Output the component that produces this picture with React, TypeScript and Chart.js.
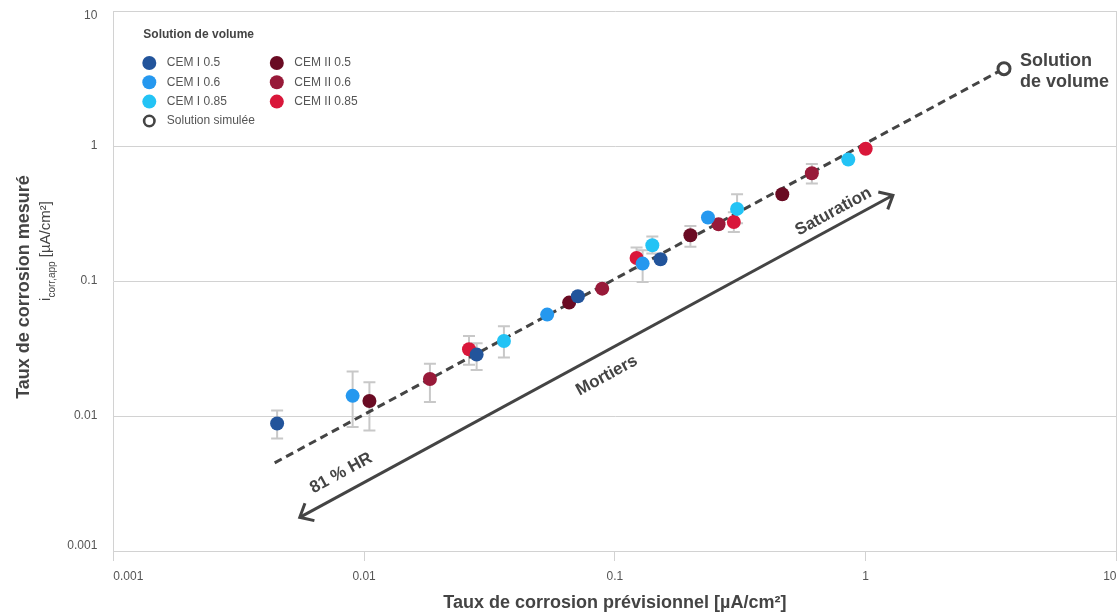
import React, { useEffect, useRef } from 'react';
import { Chart, registerables } from 'chart.js';

Chart.register(...registerables);

const FONT = "'Liberation Sans', Arial, Helvetica, sans-serif";

// ---- Axis ticks ----
const xTickValues = [0.001, 0.01, 0.1, 1, 10];
const xTickLabels = ['0.001', '0.01', '0.1', '1', '10'];
const yTickValues = [0.001, 0.01, 0.1, 1, 10];
const yTickLabels = ['0.001', '0.01', '0.1', '1', '10'];

// ---- Series ----
const seriesNames = ['CEM I 0.5', 'CEM I 0.6', 'CEM I 0.85', 'CEM II 0.5', 'CEM II 0.6', 'CEM II 0.85'];
const seriesColors = ['#22549b', '#2598ef', '#23c3f5', '#6a0b23', '#981a39', '#d9173a'];

const cemI05X = [0.0045, 0.0281, 0.0712, 0.152];
const cemI05Y = [0.0088, 0.0285, 0.077, 0.145];
const cemI05Lo = [0.0068, 0.0219, null, null];
const cemI05Hi = [0.011, 0.0346, null, null];

const cemI06X = [0.009, 0.0537, 0.129, 0.235];
const cemI06Y = [0.0141, 0.0564, 0.1345, 0.295];
const cemI06Lo = [0.0083, null, 0.0983, null];
const cemI06Hi = [0.0214, null, 0.1688, null];

const cemI085X = [0.0361, 0.141, 0.307, 0.852];
const cemI085Y = [0.0359, 0.184, 0.342, 0.794];
const cemI085Lo = [0.0271, 0.16, 0.268, null];
const cemI085Hi = [0.0462, 0.214, 0.439, null];

const cemII05X = [0.0105, 0.0657, 0.2, 0.465];
const cemII05Y = [0.0129, 0.0692, 0.218, 0.439];
const cemII05Lo = [0.0078, null, 0.179, null];
const cemII05Hi = [0.0178, null, 0.256, null];

const cemII06X = [0.0183, 0.089, 0.259, 0.61];
const cemII06Y = [0.0188, 0.0878, 0.263, 0.628];
const cemII06Lo = [0.0127, null, null, 0.527];
const cemII06Hi = [0.0244, null, null, 0.736];

const cemII085X = [0.0262, 0.122, 0.298, 1.0];
const cemII085Y = [0.0312, 0.148, 0.2735, 0.953];
const cemII085Lo = [0.024, 0.124, 0.231, null];
const cemII085Hi = [0.0391, 0.177, 0.323, null];

// Simulated bulk solution line
const simName = 'Solution simulée';
const simX = [0.0044, 3.56];
const simY = [0.0045, 3.74];

// Annotation arrow (data coordinates)
const arrowX = [0.00554, 1.284];
const arrowY = [0.001776, 0.4313];

const seriesX = [cemI05X, cemI06X, cemI085X, cemII05X, cemII06X, cemII085X];
const seriesY = [cemI05Y, cemI06Y, cemI085Y, cemII05Y, cemII06Y, cemII085Y];
const seriesLo = [cemI05Lo, cemI06Lo, cemI085Lo, cemII05Lo, cemII06Lo, cemII085Lo];
const seriesHi = [cemI05Hi, cemI06Hi, cemI085Hi, cemII05Hi, cemII06Hi, cemII085Hi];

const GRID = '#d2d2d2';
const DARK = '#444444';
const TEXT = '#555555';

const errorBarPlugin = {
  id: 'errorBars',
  beforeDatasetsDraw(chart: any) {
    const { ctx } = chart;
    const xs = chart.scales.x;
    const ys = chart.scales.y;
    ctx.save();
    ctx.strokeStyle = '#c8c8c8';
    ctx.lineWidth = 2;
    chart.data.datasets.forEach((ds: any) => {
      if (!ds.errLo) return;
      ds.data.forEach((p: any, i: number) => {
        const lo = ds.errLo[i];
        const hi = ds.errHi[i];
        if (lo == null || hi == null) return;
        const px = xs.getPixelForValue(p.x);
        const yl = ys.getPixelForValue(lo);
        const yh = ys.getPixelForValue(hi);
        ctx.beginPath();
        ctx.moveTo(px, yl);
        ctx.lineTo(px, yh);
        ctx.moveTo(px - 6, yl);
        ctx.lineTo(px + 6, yl);
        ctx.moveTo(px - 6, yh);
        ctx.lineTo(px + 6, yh);
        ctx.stroke();
      });
    });
    ctx.restore();
  },
};

function chevron(ctx: CanvasRenderingContext2D, tx: number, ty: number, ang: number, len: number) {
  const a1 = ang + 0.72;
  const a2 = ang - 0.72;
  ctx.beginPath();
  ctx.moveTo(tx + len * Math.cos(a1), ty + len * Math.sin(a1));
  ctx.lineTo(tx, ty);
  ctx.lineTo(tx + len * Math.cos(a2), ty + len * Math.sin(a2));
  ctx.stroke();
}

const annotationPlugin = {
  id: 'annotations',
  afterDatasetsDraw(chart: any) {
    const { ctx } = chart;
    const xs = chart.scales.x;
    const ys = chart.scales.y;
    const x1 = xs.getPixelForValue(arrowX[0]);
    const y1 = ys.getPixelForValue(arrowY[0]);
    const x2 = xs.getPixelForValue(arrowX[1]);
    const y2 = ys.getPixelForValue(arrowY[1]);
    const L = Math.hypot(x2 - x1, y2 - y1);
    const dx = (x2 - x1) / L;
    const dy = (y2 - y1) / L;
    const nx = dy;
    const ny = -dx;
    const ang = Math.atan2(y2 - y1, x2 - x1);
    ctx.save();
    ctx.strokeStyle = DARK;
    ctx.lineWidth = 3;
    ctx.lineCap = 'butt';
    ctx.lineJoin = 'miter';
    ctx.beginPath();
    ctx.moveTo(x1, y1);
    ctx.lineTo(x2, y2);
    ctx.stroke();
    chevron(ctx, x1, y1, ang, 15);
    chevron(ctx, x2, y2, ang + Math.PI, 15);

    const labels: [string, number, number][] = [
      ['81 % HR', 0.085, 19],
      ['Mortiers', 0.5, -22],
      ['Saturation', 0.911, 14],
    ];
    ctx.fillStyle = DARK;
    ctx.font = `bold 17px ${FONT}`;
    ctx.textAlign = 'center';
    ctx.textBaseline = 'middle';
    labels.forEach(([t, f, off]) => {
      const px = x1 + dx * L * f + nx * off;
      const py = y1 + dy * L * f + ny * off;
      ctx.save();
      ctx.translate(px, py);
      ctx.rotate(ang);
      ctx.fillText(t, 0, 0);
      ctx.restore();
    });

    // label next to the simulated solution point
    const sx = xs.getPixelForValue(simX[1]);
    const sy = ys.getPixelForValue(simY[1]);
    ctx.font = `bold 18px ${FONT}`;
    ctx.textAlign = 'left';
    ctx.fillText('Solution', sx + 16, sy - 8);
    ctx.fillText('de volume', sx + 16, sy + 13);
    ctx.restore();
  },
};

const titlesPlugin = {
  id: 'titles',
  afterDraw(chart: any) {
    const { ctx, chartArea } = chart;
    ctx.save();
    ctx.fillStyle = DARK;
    // x title
    ctx.font = `bold 18px ${FONT}`;
    ctx.textAlign = 'center';
    ctx.textBaseline = 'middle';
    ctx.fillText('Taux de corrosion prévisionnel [µA/cm²]', (chartArea.left + chartArea.right) / 2, 603);

    // y title
    ctx.save();
    ctx.translate(24, 287);
    ctx.rotate(-Math.PI / 2);
    ctx.fillText('Taux de corrosion mesuré', 0, 0);
    ctx.restore();

    // y subtitle with subscript
    ctx.save();
    ctx.translate(46, 251);
    ctx.rotate(-Math.PI / 2);
    ctx.textAlign = 'left';
    ctx.textBaseline = 'alphabetic';
    ctx.font = `15px ${FONT}`;
    const wI = ctx.measureText('i').width;
    const wUnit = ctx.measureText(' [µA/cm²]').width;
    ctx.font = `10px ${FONT}`;
    const wSub = ctx.measureText('corr,app').width;
    let cx = -(wI + wSub + wUnit) / 2;
    ctx.font = `15px ${FONT}`;
    ctx.fillText('i', cx, 4);
    cx += wI;
    ctx.font = `10px ${FONT}`;
    ctx.fillText('corr,app', cx, 9);
    cx += wSub;
    ctx.font = `15px ${FONT}`;
    ctx.fillText(' [µA/cm²]', cx, 4);
    ctx.restore();

    // legend
    const lx = chartArea.left;
    const ly = chartArea.top;
    ctx.font = `bold 12px ${FONT}`;
    ctx.textAlign = 'left';
    ctx.textBaseline = 'middle';
    ctx.fillStyle = DARK;
    ctx.fillText('Solution de volume', lx + 30, ly + 23.5);
    const colX = [lx + 36, lx + 163.5];
    const rowY = [ly + 52, ly + 71.3, ly + 90.6, ly + 110];
    ctx.font = `12px ${FONT}`;
    seriesNames.forEach((name, i) => {
      const col = i < 3 ? 0 : 1;
      const row = i % 3;
      ctx.beginPath();
      ctx.fillStyle = seriesColors[i];
      ctx.arc(colX[col], rowY[row], 7, 0, Math.PI * 2);
      ctx.fill();
      ctx.fillStyle = TEXT;
      ctx.fillText(name, colX[col] + 17.5, rowY[row]);
    });
    ctx.beginPath();
    ctx.strokeStyle = DARK;
    ctx.lineWidth = 2.6;
    ctx.arc(colX[0], rowY[3], 5.2, 0, Math.PI * 2);
    ctx.stroke();
    ctx.fillStyle = TEXT;
    ctx.fillText(simName, colX[0] + 17.5, rowY[3]);
    ctx.restore();
  },
};

export default function App() {
  const ref = useRef<HTMLCanvasElement | null>(null);

  useEffect(() => {
    if (!ref.current) return;
    const datasets: any[] = seriesNames.map((name, i) => ({
      label: name,
      data: seriesX[i].map((x, j) => ({ x, y: seriesY[i][j] })),
      errLo: seriesLo[i],
      errHi: seriesHi[i],
      backgroundColor: seriesColors[i],
      borderColor: seriesColors[i],
      pointRadius: 7,
      pointHoverRadius: 7,
      borderWidth: 0,
      pointBorderWidth: 0,
      showLine: false,
      order: 0,
    }));
    datasets.push({
      label: simName,
      data: simX.map((x, j) => ({ x, y: simY[j] })),
      showLine: true,
      borderColor: DARK,
      borderWidth: 3,
      borderDash: [8, 5],
      pointRadius: [0, 6],
      pointBorderWidth: 3,
      pointBorderColor: DARK,
      pointBackgroundColor: '#ffffff',
      fill: false,
      order: 10,
    });

    const chart = new Chart(ref.current, {
      type: 'scatter',
      data: { datasets },
      plugins: [errorBarPlugin, annotationPlugin, titlesPlugin],
      options: {
        animation: false,
        responsive: true,
        maintainAspectRatio: false,
        layout: { autoPadding: false, padding: { left: 0, right: 1.5, top: 11, bottom: 0 } },
        plugins: {
          legend: { display: false },
          tooltip: { enabled: false },
          title: { display: false },
        },
        scales: {
          x: {
            type: 'logarithmic',
            min: 0.001,
            max: 10,
            afterBuildTicks: (scale: any) => {
              scale.ticks = xTickValues.map((v) => ({ value: v }));
            },
            afterFit: (scale: any) => {
              scale.height = 64;
              scale.paddingLeft = 0;
              scale.paddingRight = 0;
            },
            grid: {
              color: (c: any) => (c.tick && c.tick.value === 10 ? GRID : 'rgba(0,0,0,0)'),
              tickColor: GRID,
              tickLength: 10,
              lineWidth: 1,
            },
            border: { display: true, color: GRID },
            ticks: {
              autoSkip: false,
              maxRotation: 0,
              align: 'inner',
              padding: 8,
              color: TEXT,
              font: { family: FONT, size: 12 },
              callback: (v: any) => {
                const i = xTickValues.findIndex((t) => Math.abs(t - v) < t * 1e-6);
                return i >= 0 ? xTickLabels[i] : '';
              },
            },
          },
          y: {
            type: 'logarithmic',
            min: 0.001,
            max: 10,
            afterBuildTicks: (scale: any) => {
              scale.ticks = yTickValues.map((v) => ({ value: v }));
            },
            afterFit: (scale: any) => {
              scale.width = 113.3;
              scale.paddingTop = 0;
              scale.paddingBottom = 0;
            },
            grid: {
              color: GRID,
              drawTicks: false,
              lineWidth: 1,
            },
            border: { display: true, color: GRID },
            ticks: {
              autoSkip: false,
              padding: 16,
              color: TEXT,
              font: { family: FONT, size: 12, lineHeight: 0.85 },
              callback: (v: any) => {
                const i = yTickValues.findIndex((t) => Math.abs(t - v) < t * 1e-6);
                if (i < 0) return '';
                if (i === 0) return [yTickLabels[i], ''];
                if (i === yTickValues.length - 1) return ['', yTickLabels[i]];
                return yTickLabels[i];
              },
            },
          },
        },
      } as any,
    });
    return () => chart.destroy();
  }, []);

  return (
    <div style={{ position: 'fixed', left: 0, top: 0, width: 1118, height: 615, background: '#ffffff' }}>
      <canvas ref={ref} />
    </div>
  );
}
